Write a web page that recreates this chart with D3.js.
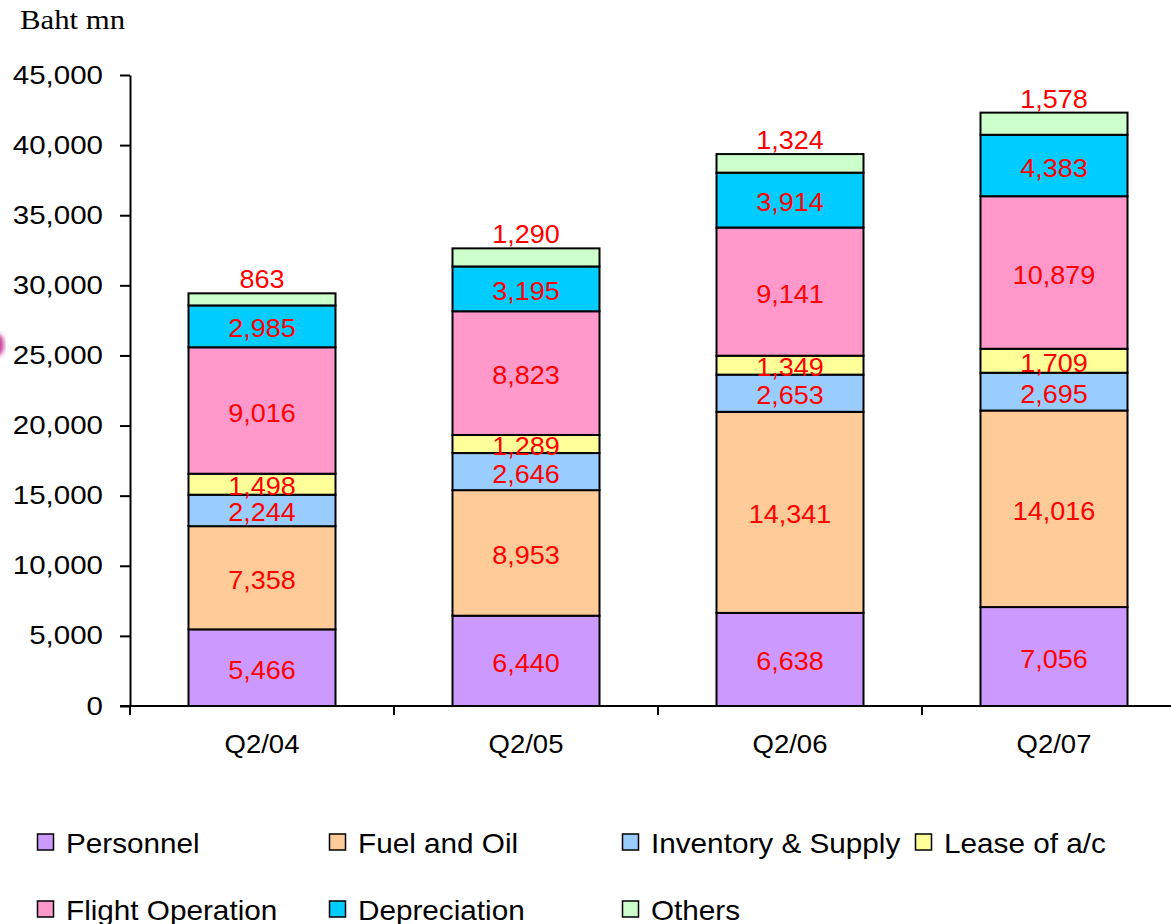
<!DOCTYPE html>
<html>
<head>
<meta charset="utf-8">
<script src="https://cdn.jsdelivr.net/npm/d3@7"></script>
<style>
  body { margin: 0; background: #fff; }
  svg { display: block; }
</style>
</head>
<body>
<div id="container"></div>
<script>
// Data (Baht mn)
const quarters = ["Q2/04", "Q2/05", "Q2/06", "Q2/07"];
const seriesNames = ["Personnel", "Fuel and Oil", "Inventory & Supply", "Lease of a/c",
  "Flight Operation", "Depreciation", "Others"];
const personnel = [5466, 6440, 6638, 7056];
const fuelOil = [7358, 8953, 14341, 14016];
const inventory = [2244, 2646, 2653, 2695];
const lease = [1498, 1289, 1349, 1709];
const flightOps = [9016, 8823, 9141, 10879];
const depreciation = [2985, 3195, 3914, 4383];
const others = [863, 1290, 1324, 1578];
const colors = ["#CC99FF", "#FFCC99", "#99CCFF", "#FFFF99", "#FF99CC", "#00CCFF", "#CCFFCC"];
const yTicks = [0, 5000, 10000, 15000, 20000, 25000, 30000, 35000, 40000, 45000];

const width = 1171;
const height = 924;
const marginLeft = 130;
const marginTop = 75;
const plotBottom = 706;
const step = 264;

const seriesValues = [personnel, fuelOil, inventory, lease, flightOps, depreciation, others];
const table = quarters.map((q, i) => {
  const row = { quarter: q };
  seriesNames.forEach((s, j) => (row[s] = seriesValues[j][i]));
  return row;
});
const stacked = d3.stack().keys(seriesNames)(table);

const svg = d3.create("svg").attr("width", width).attr("height", height);

// x scale: band with bars ~147px wide inside 264px steps
const pad = 1 - 147 / step;
const x = d3.scaleBand()
  .domain(quarters)
  .range([marginLeft, marginLeft + step * quarters.length])
  .paddingInner(pad)
  .paddingOuter(pad / 2);

const y = d3.scaleLinear().domain([0, 45000]).range([plotBottom, marginTop]);

const font = "'Liberation Sans', Arial, sans-serif";

// stray artifact at left edge
const defs = svg.append("defs");
defs.append("filter").attr("id", "blur")
  .append("feGaussianBlur").attr("stdDeviation", 2);
svg.append("ellipse")
  .attr("cx", -2).attr("cy", 345).attr("rx", 6).attr("ry", 11)
  .attr("fill", "#c0208a").attr("opacity", 0.85)
  .attr("filter", "url(#blur)");

// "Baht mn"
svg.append("text")
  .attr("transform", "translate(20,29) scale(1.1,1)")
  .attr("font-family", "'Liberation Serif', 'Times New Roman', serif")
  .attr("font-size", 28)
  .attr("fill", "#000")
  .text("Baht mn");

// bars
const layers = svg.append("g")
  .selectAll("g")
  .data(stacked)
  .join("g")
  .attr("fill", (d, i) => colors[i]);

layers.selectAll("rect")
  .data(d => d)
  .join("rect")
  .attr("x", d => x(d.data.quarter))
  .attr("y", d => y(d[1]))
  .attr("width", x.bandwidth())
  .attr("height", d => y(d[0]) - y(d[1]))
  .attr("stroke", "#000")
  .attr("stroke-width", 2);

// value labels
stacked.forEach((layer, i) => {
  const isTop = i === stacked.length - 1;
  svg.append("g")
    .selectAll("text")
    .data(layer)
    .join("text")
    .attr("transform", d => {
      const cx = x(d.data.quarter) + x.bandwidth() / 2;
      const cy = isTop ? y(d[1]) - 14 : y((d[0] + d[1]) / 2) + 2;
      return `translate(${cx},${cy}) scale(1.08,1)`;
    })
    .attr("text-anchor", "middle")
    .attr("dy", "0.36em")
    .attr("font-family", font)
    .attr("font-size", 25)
    .attr("fill", "#FF0000")
    .text(d => d3.format(",")(d[1] - d[0]));
});

// y axis
const yAxis = svg.append("g")
  .attr("transform", `translate(${marginLeft},0)`)
  .call(d3.axisLeft(y).tickValues(yTicks).tickFormat(d3.format(",")).tickSize(10).tickSizeOuter(0));
yAxis.select(".domain").attr("stroke", "#000").attr("stroke-width", 2);
yAxis.selectAll(".tick line").attr("stroke", "#000").attr("stroke-width", 2);
yAxis.selectAll(".tick text")
  .attr("x", 0)
  .attr("transform", "translate(-27,0) scale(1.18,1)")
  .attr("font-family", font)
  .attr("font-size", 25)
  .attr("fill", "#000");

// x axis (ticks on band boundaries)
const xAxis = svg.append("g");
xAxis.append("line")
  .attr("x1", marginLeft - 10).attr("x2", width)
  .attr("y1", plotBottom).attr("y2", plotBottom)
  .attr("stroke", "#000").attr("stroke-width", 2);
const boundaries = quarters.map(q => x(q) - (x.step() - x.bandwidth()) / 2);
xAxis.selectAll(".xt")
  .data(boundaries)
  .join("line")
  .attr("x1", d => d).attr("x2", d => d)
  .attr("y1", plotBottom).attr("y2", plotBottom + 9)
  .attr("stroke", "#000").attr("stroke-width", 2);
xAxis.selectAll("text")
  .data(quarters)
  .join("text")
  .attr("transform", d => `translate(${x(d) + x.bandwidth() / 2},744) scale(1.1,1)`)
  .attr("text-anchor", "middle")
  .attr("dy", "0.36em")
  .attr("font-family", font)
  .attr("font-size", 25)
  .attr("fill", "#000")
  .text(d => d);

// legend
const legendCols = [37, 329, 622, 915];
const legendRows = [843, 910];
const legend = svg.append("g")
  .selectAll("g")
  .data(seriesNames)
  .join("g")
  .attr("transform", (d, i) => `translate(${legendCols[i % 4]},${legendRows[Math.floor(i / 4)]})`);
legend.append("rect")
  .attr("x", 0.5).attr("y", -9)
  .attr("width", 16).attr("height", 16)
  .attr("fill", (d, i) => colors[i])
  .attr("stroke", "#000").attr("stroke-width", 1.5);
legend.append("text")
  .attr("transform", "translate(29,0) scale(1.1,1)")
  .attr("dy", "0.36em")
  .attr("font-family", font)
  .attr("font-size", 27)
  .attr("fill", "#000")
  .text(d => d);

document.getElementById("container").append(svg.node());
</script>
</body>
</html>
